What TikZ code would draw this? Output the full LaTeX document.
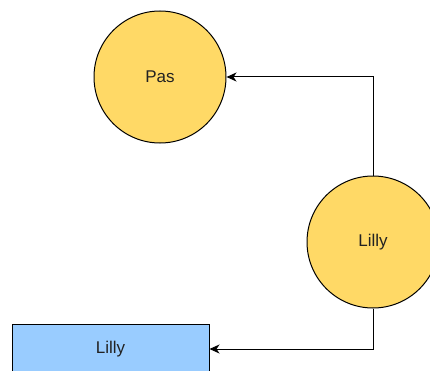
\documentclass[tikz,border=0pt]{standalone}
\usepackage{fontspec}
\setmainfont{Liberation Sans}
\usepackage{tikz}
\usetikzlibrary{arrows,arrows.meta,positioning}
\definecolor{circfill}{HTML}{FFD966}
\definecolor{boxfill}{HTML}{99CCFF}
\definecolor{inkgray}{HTML}{222222}
\tikzset{person/.style={circle, draw, line width=1pt, fill=circfill, minimum size=132pt, inner sep=0pt, text=inkgray, font=\fontsize{17}{20}\selectfont},
         entry/.style={rectangle, draw, line width=1pt, fill=boxfill, minimum width=197pt, minimum height=50pt, inner sep=0pt, text=inkgray, font=\fontsize{17}{20}\selectfont},
         link/.style={-{Stealth[length=10pt,width=9pt,inset=3pt]}, line width=1pt}}

\begin{document}
\begin{tikzpicture}[x=1pt, y=1pt, auto]
				\useasboundingbox (0,0) rectangle (430,370);
				\node (Pas) 	[person] 	at (160,293)		{Pas};
				\node (Lil) 	[person] 	at (373,128)		{Lilly};
				\node (Box) 	[entry] 	at (110.5,21)		{Lilly};
				\draw[link] 		(Lil.north)		|- 		(Pas.east);
				\draw[link] 		(Lil.south)		|- 		(Box.east);
\end{tikzpicture}
\end{document}
